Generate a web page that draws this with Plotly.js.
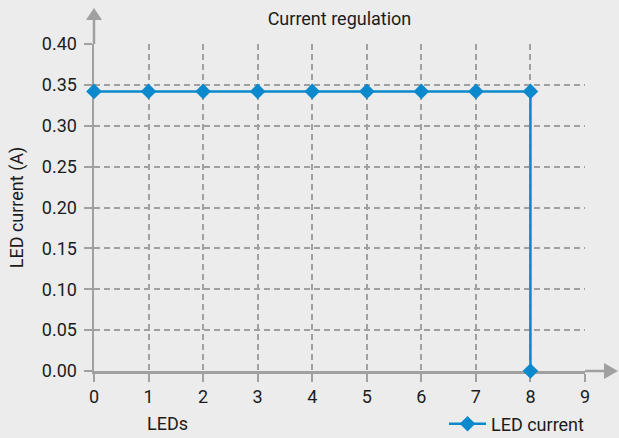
<!DOCTYPE html>
<html>
<head>
<meta charset="utf-8">
<script src="https://cdn.plot.ly/plotly-3.0.1.min.js"></script>
<style>html,body{margin:0;padding:0;background:#ebeceb;}#chart{width:619px;height:438px;}</style>
</head>
<body>
<div id="chart"></div>
<script>
const leds = [0, 1, 2, 3, 4, 5, 6, 7, 8, 8];
const ledCurrent = [0.342, 0.342, 0.342, 0.342, 0.342, 0.342, 0.342, 0.342, 0.342, 0.0];
const xTicks = [0, 1, 2, 3, 4, 5, 6, 7, 8, 9];
const yTicks = [0, 0.05, 0.10, 0.15, 0.20, 0.25, 0.30, 0.35, 0.40];
const yTickLabels = yTicks.map(v => v.toFixed(2));
const seriesName = 'LED current';

const blue = '#0b89cc';
const grey = '#a0a0a0';
const font = 'Roboto, "Liberation Sans", Arial, sans-serif';
const fs = 18;

// plot area in pixels: x 94..585, y 44..371
const pw = 491, ph = 327;
const px = v => v / pw, py = v => v / ph;

const shapes = [
  {type:'line', xref:'paper', yref:'paper', x0:1, x1:1 + px(22), y0:0, y1:0, line:{color:grey, width:2.5}, layer:'above'},
  {type:'path', xref:'paper', yref:'paper', layer:'above', fillcolor:grey, line:{width:0},
   path:`M ${1+px(19)} ${py(8)} L ${1+px(33)} 0 L ${1+px(19)} ${-py(8)} Z`},
  {type:'line', xref:'paper', yref:'paper', x0:0, x1:0, y0:1, y1:1 + py(26), line:{color:grey, width:2.5}, layer:'above'},
  {type:'path', xref:'paper', yref:'paper', layer:'above', fillcolor:grey, line:{width:0},
   path:`M ${-px(8)} ${1+py(24)} L 0 ${1+py(36)} L ${px(8)} ${1+py(24)} Z`}
];

const data = [{
  x: leds, y: ledCurrent, name: seriesName, type: 'scatter', mode: 'lines+markers',
  line: {color: blue, width: 2.5},
  marker: {symbol: 'diamond', size: 12, color: blue},
  cliponaxis: false, showlegend: true
}];

const layout = {
  width: 619, height: 438,
  paper_bgcolor: '#ebeceb', plot_bgcolor: '#ebeceb',
  margin: {l: 94, r: 34, t: 44, b: 67},
  font: {family: font, size: fs, color: '#1c1c1c'},
  title: {text: 'Current regulation', font: {family: font, size: fs, color: '#1c1c1c'},
          x: 0.5, xref: 'paper', xanchor: 'center', y: 1 - 19/438, yanchor: 'middle'},
  xaxis: {range: [0, 9], tickvals: xTicks, ticktext: xTicks.map(String), automargin: false,
          showline: true, linecolor: grey, linewidth: 2.5, zeroline: false,
          showgrid: true, gridcolor: grey, gridwidth: 2, griddash: '6px,4px',
          ticks: 'outside', ticklen: 8, tickwidth: 2, tickcolor: grey,
          tickfont: {size: fs}, layer: 'below traces', fixedrange: true},
  yaxis: {range: [0, 0.4], tickvals: yTicks, ticktext: yTickLabels, automargin: false,
          showline: true, linecolor: grey, linewidth: 2.5, zeroline: false,
          showgrid: true, gridcolor: grey, gridwidth: 2, griddash: '6px,4px',
          ticks: 'outside', ticklen: 8, tickwidth: 2, tickcolor: grey, ticklabelstandoff: 3,
          tickfont: {size: fs}, layer: 'below traces', fixedrange: true,
          title: {text: 'LED current (A)', font: {size: fs}, standoff: 14}},
  showlegend: true,
  legend: {x: 444/619, xref: 'container', y: 1 - 424/438, yref: 'container', yanchor: 'middle', xanchor: 'left',
           bgcolor: 'rgba(0,0,0,0)', font: {size: fs}, orientation: 'h', itemwidth: 37},
  annotations: [{text: 'LEDs', xref: 'paper', yref: 'paper', x: px(167-94), y: -py(423-371),
                 xanchor: 'center', yanchor: 'middle', showarrow: false, font: {size: fs}}],
  shapes: shapes
};

Plotly.newPlot('chart', data, layout, {displayModeBar: false, staticPlot: true});
</script>
</body>
</html>
